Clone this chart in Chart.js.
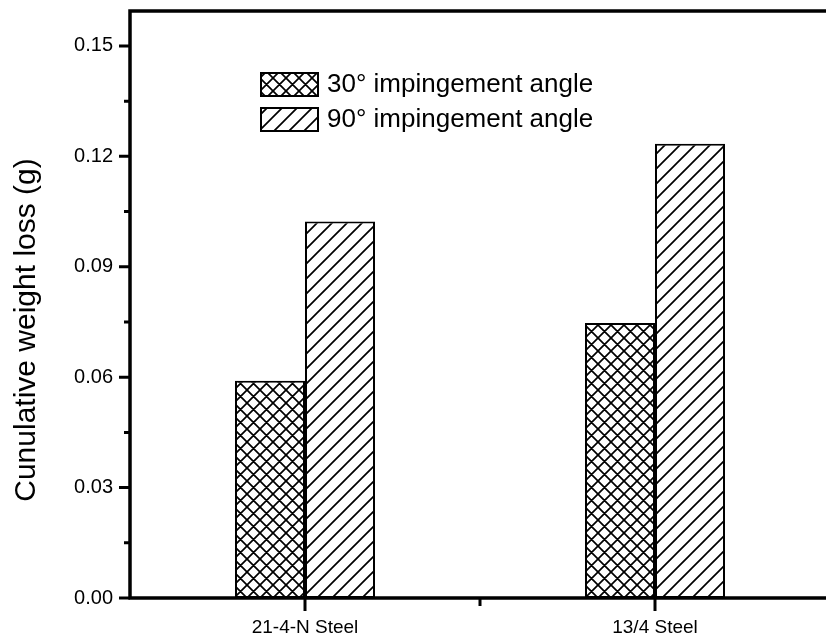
<!DOCTYPE html>
<html>
<head>
<meta charset="utf-8">
<script src="https://cdn.jsdelivr.net/npm/chart.js@4.4.0/dist/chart.umd.min.js"></script>
<style>
    html, body { margin: 0; padding: 0; background: #fff; overflow: hidden; }
    #wrap { width: 830px; height: 643px; }
</style>
</head>
<body>
<div id="wrap"><canvas id="lossChart"></canvas></div>
<script>
// Data
const steels = ['21-4-N Steel', '13/4 Steel'];
const loss30 = [0.0590, 0.0747];
const loss90 = [0.1023, 0.1234];
const seriesNames = ['30° impingement angle', '90° impingement angle'];
const yTicks = [0, 0.03, 0.06, 0.09, 0.12, 0.15];
const yMinorTicks = [0.015, 0.045, 0.075, 0.105, 0.135];
const yMax = 0.1595;
const yTitle = 'Cunulative weight loss (g)';

const FONT = '"Liberation Sans", Arial, Helvetica, sans-serif';

// Hatch fills: 'cross' = crosshatch, 'slash' = forward diagonal lines
function makePattern(kind) {
    const s = kind === 'cross' ? 13 : 15;
    const c = document.createElement('canvas');
    c.width = s; c.height = s;
    const g = c.getContext('2d');
    g.fillStyle = '#fff';
    g.fillRect(0, 0, s, s);
    g.strokeStyle = '#000';
    g.lineWidth = 1.7;
    g.beginPath();
    g.moveTo(-2, s + 2); g.lineTo(s + 2, -2);
    g.moveTo(-2, 2); g.lineTo(2, -2);
    g.moveTo(s - 2, s + 2); g.lineTo(s + 2, s - 2);
    if (kind === 'cross') {
        g.moveTo(-2, -2); g.lineTo(s + 2, s + 2);
        g.moveTo(s - 2, -2); g.lineTo(s + 2, 2);
        g.moveTo(-2, s - 2); g.lineTo(2, s + 2);
    }
    g.stroke();
    return g.createPattern(c, 'repeat');
}

const fill30 = makePattern('cross');
const fill90 = makePattern('slash');

// Axis lines, tick marks, axis title and the in-plot legend
const axesFrame = {
    id: 'axesFrame',
    afterDraw(chart) {
        const { ctx, chartArea: a, scales: { x, y } } = chart;
        ctx.save();
        ctx.strokeStyle = '#000';
        ctx.lineCap = 'butt';

        ctx.lineWidth = 3.5;
        ctx.beginPath();
        ctx.moveTo(a.left, a.bottom + 1.5);
        ctx.lineTo(a.left, a.top);
        ctx.lineTo(a.right, a.top);
        ctx.moveTo(a.left - 1.5, a.bottom);
        ctx.lineTo(a.right, a.bottom);
        ctx.stroke();

        ctx.lineWidth = 3;
        ctx.beginPath();
        yTicks.forEach(v => {
            const py = y.getPixelForValue(v);
            ctx.moveTo(a.left - 11, py); ctx.lineTo(a.left, py);
        });
        yMinorTicks.forEach(v => {
            const py = y.getPixelForValue(v);
            ctx.moveTo(a.left - 6, py); ctx.lineTo(a.left, py);
        });
        steels.forEach((_, i) => {
            const px = x.getPixelForTick(i);
            ctx.moveTo(px, a.bottom); ctx.lineTo(px, a.bottom + 13);
        });
        for (let i = 0; i < steels.length - 1; i++) {
            const px = (x.getPixelForTick(i) + x.getPixelForTick(i + 1)) / 2;
            ctx.moveTo(px, a.bottom); ctx.lineTo(px, a.bottom + 8);
        }
        ctx.stroke();

        // y axis title, sits a bit below the plot's middle
        ctx.save();
        ctx.translate(27, a.top + 319);
        ctx.rotate(-Math.PI / 2);
        ctx.font = '30px ' + FONT;
        ctx.textAlign = 'center';
        ctx.textBaseline = 'middle';
        ctx.fillStyle = '#000';
        ctx.fillText(yTitle, 0, 0);
        ctx.restore();

        // legend
        const fills = [fill30, fill90];
        ctx.font = '26px ' + FONT;
        ctx.textBaseline = 'middle';
        seriesNames.forEach((name, i) => {
            const bx = a.left + 131, by = a.top + 62 + i * 35;
            ctx.fillStyle = fills[i];
            ctx.fillRect(bx, by, 57, 23);
            ctx.lineWidth = 2;
            ctx.strokeRect(bx, by, 57, 23);
            ctx.fillStyle = '#000';
            ctx.fillText(name, bx + 66, by + 12);
        });
        ctx.restore();
    }
};

new Chart(document.getElementById('lossChart'), {
    type: 'bar',
    data: {
        labels: steels,
        datasets: [
            {
                label: seriesNames[0],
                data: loss30,
                backgroundColor: fill30,
                borderColor: '#000',
                borderWidth: 2,
                borderSkipped: false
            },
            {
                label: seriesNames[1],
                data: loss90,
                backgroundColor: fill90,
                borderColor: '#000',
                borderWidth: 2,
                borderSkipped: false
            }
        ]
    },
    options: {
        responsive: true,
        maintainAspectRatio: false,
        animation: false,
        layout: { padding: { top: 11, right: 0, left: 0, bottom: 0 } },
        plugins: {
            legend: { display: false },
            tooltip: { enabled: false }
        },
        datasets: {
            bar: { categoryPercentage: 0.4, barPercentage: 1.0 }
        },
        scales: {
            x: {
                grid: { display: false, drawTicks: false },
                border: { display: false },
                ticks: {
                    color: '#000',
                    padding: 18,
                    font: { family: FONT, size: 19 }
                },
                afterFit(scale) {
                    scale.height = 45;
                    scale.paddingLeft = 0;
                    scale.paddingRight = 0;
                }
            },
            y: {
                min: 0,
                max: yMax,
                grid: { display: false, drawTicks: false },
                border: { display: false },
                afterBuildTicks(scale) {
                    scale.ticks = yTicks.map(v => ({ value: v }));
                },
                ticks: {
                    color: '#000',
                    padding: 17,
                    autoSkip: false,
                    font: { family: FONT, size: 20 },
                    callback: v => v.toFixed(2)
                },
                afterFit(scale) {
                    scale.width = 130;
                    scale.paddingTop = 0;
                    scale.paddingBottom = 0;
                }
            }
        }
    },
    plugins: [axesFrame]
});
</script>
</body>
</html>
